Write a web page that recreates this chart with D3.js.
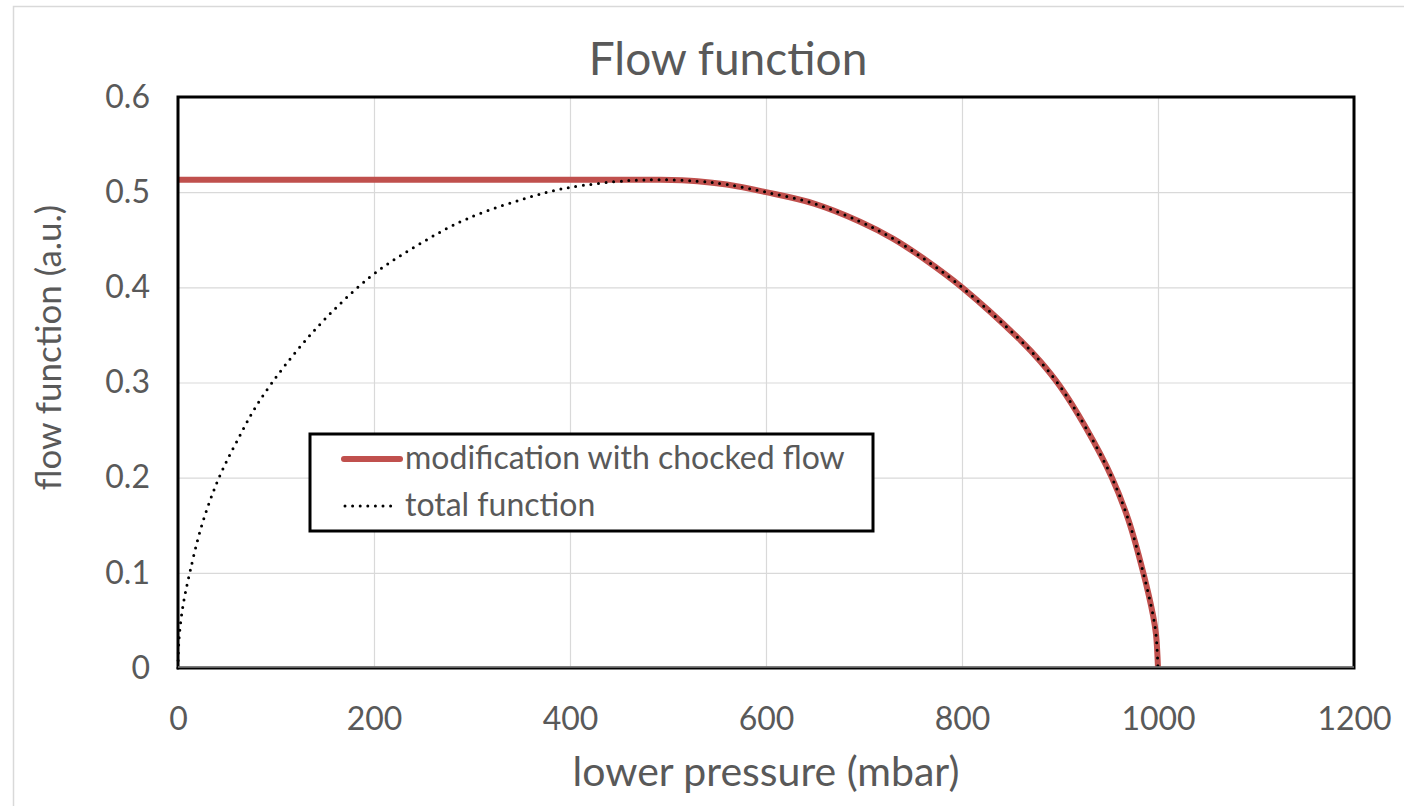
<!DOCTYPE html>
<html>
<head>
<meta charset="utf-8">
<script src="https://cdn.jsdelivr.net/npm/d3@7"></script>
<style>
  body { margin: 0; background: #fff; }
  text { font-family: Lato, "Open Sans", sans-serif; fill: #595959; }
</style>
</head>
<body>
<div id="chart"></div>
<script>
// values
var pressure      = [0, 1, 5, 12, 24, 41, 60, 84, 135, 195, 244, 295, 366, 400, 458, 492, 530, 560, 600, 649, 696, 730, 764, 800, 860, 880, 900, 925, 953, 970, 985, 995, 998, 1000];
var totalFunction = [0, 0.03, 0.065, 0.10, 0.149, 0.198, 0.238, 0.282, 0.350, 0.410, 0.444, 0.472, 0.497, 0.505, 0.512, 0.513, 0.5115, 0.508, 0.500, 0.488, 0.469, 0.451, 0.428, 0.400, 0.344, 0.322, 0.296, 0.255, 0.200, 0.155, 0.100, 0.055, 0.035, 0];

var chokedPressure = [0, 450, 492, 530, 560, 600, 649, 696, 730, 764, 800, 860, 880, 900, 925, 953, 970, 985, 995, 998, 1000];
var chokedFunction = [0.513, 0.513, 0.513, 0.5115, 0.508, 0.500, 0.488, 0.469, 0.451, 0.428, 0.400, 0.344, 0.322, 0.296, 0.255, 0.200, 0.155, 0.100, 0.055, 0.035, 0];

var xTicks = [0, 200, 400, 600, 800, 1000, 1200];
var yTicks = [0, 0.1, 0.2, 0.3, 0.4, 0.5, 0.6];

var seriesNames = ["modification with chocked flow", "total function"];

var W = 1404, H = 806;
var margin = {top: 97, right: 50, bottom: 138, left: 178};
var width = W - margin.left - margin.right;
var height = H - margin.top - margin.bottom;

var svg = d3.select("#chart").append("svg")
    .attr("width", W)
    .attr("height", H);

// outer chart frame
svg.append("rect")
    .attr("x", 13.5).attr("y", 6.5)
    .attr("width", W).attr("height", H)
    .attr("fill", "none")
    .attr("stroke", "#d9d9d9")
    .attr("stroke-width", 1.5);

svg.append("text")
    .attr("x", margin.left + width / 2 - 38)
    .attr("y", 75)
    .attr("text-anchor", "middle")
    .style("font-size", "46px")
    .text("Flow function");

var g = svg.append("g")
    .attr("transform", "translate(" + margin.left + "," + margin.top + ")");

var x = d3.scaleLinear().domain([0, 1200]).range([0, width]);
var y = d3.scaleLinear().domain([0, 0.6]).range([height, 0]);

// grid
g.append("g")
    .attr("class", "grid")
    .attr("transform", "translate(0," + height + ")")
    .call(d3.axisBottom(x).tickValues(xTicks).tickSize(-height).tickFormat(""))
    .call(function(s){ s.select(".domain").remove(); })
    .selectAll("line").attr("stroke", "#d9d9d9").attr("stroke-width", 1.2);

g.append("g")
    .attr("class", "grid")
    .call(d3.axisLeft(y).tickValues(yTicks).tickSize(-width).tickFormat(""))
    .call(function(s){ s.select(".domain").remove(); })
    .selectAll("line").attr("stroke", "#d9d9d9").attr("stroke-width", 1.2);

// axes labels
var xAxis = g.append("g")
    .attr("transform", "translate(0," + height + ")")
    .call(d3.axisBottom(x).tickValues(xTicks).tickSize(0).tickPadding(39).tickFormat(d3.format("d")));
xAxis.select(".domain").remove();
xAxis.selectAll("text")
    .style("font-size", "32px")
    .style("font-family", "Lato, 'Open Sans', sans-serif")
    .attr("fill", "#595959");

var yAxis = g.append("g")
    .call(d3.axisLeft(y).tickValues(yTicks).tickSize(0).tickPadding(28)
        .tickFormat(function(d){ return d === 0 ? "0" : d3.format(".1f")(d); }));
yAxis.select(".domain").remove();
yAxis.selectAll("text")
    .style("font-size", "32px")
    .style("font-family", "Lato, 'Open Sans', sans-serif")
    .attr("fill", "#595959");

// data lines
var chokedData = chokedPressure.map(function(p, i){ return [p, chokedFunction[i]]; });
var totalData = pressure.map(function(p, i){ return [p, totalFunction[i]]; });

var line = d3.line()
    .x(function(d){ return x(d[0]); })
    .y(function(d){ return y(d[1]); })
    .curve(d3.curveCatmullRom.alpha(0.5));

g.append("path")
    .attr("d", line(chokedData))
    .attr("fill", "none")
    .attr("stroke", "#c0504d")
    .attr("stroke-width", 6);

g.append("path")
    .attr("d", line(totalData))
    .attr("fill", "none")
    .attr("stroke", "#000")
    .attr("stroke-width", 3)
    .attr("stroke-linecap", "round")
    .attr("stroke-dasharray", "0 7.6");

// plot frame, with the grey x axis line on its bottom edge
g.append("rect")
    .attr("width", width).attr("height", height)
    .attr("fill", "none")
    .attr("stroke", "#000")
    .attr("stroke-width", 3);
g.append("line")
    .attr("x1", 0).attr("x2", width)
    .attr("y1", height - 1).attr("y2", height - 1)
    .attr("stroke", "#7f7f7f")
    .attr("stroke-width", 1.5);

// axis titles
svg.append("text")
    .attr("x", margin.left + width / 2)
    .attr("y", 786)
    .attr("text-anchor", "middle")
    .style("font-size", "41px")
    .text("lower pressure (mbar)");

svg.append("text")
    .attr("transform", "translate(61," + (margin.top + height / 2 - 35) + ") rotate(-90)")
    .attr("text-anchor", "middle")
    .style("font-size", "35px")
    .text("flow function (a.u.)");

// legend
var legend = svg.append("g").attr("transform", "translate(310,434)");
legend.append("rect")
    .attr("width", 563).attr("height", 97)
    .attr("fill", "#fff")
    .attr("stroke", "#000")
    .attr("stroke-width", 3);

legend.append("line")
    .attr("x1", 34).attr("x2", 90).attr("y1", 25).attr("y2", 25)
    .attr("stroke", "#c0504d").attr("stroke-width", 6).attr("stroke-linecap", "round");
legend.append("line")
    .attr("x1", 35).attr("x2", 88).attr("y1", 72).attr("y2", 72)
    .attr("stroke", "#000").attr("stroke-width", 3)
    .attr("stroke-linecap", "round").attr("stroke-dasharray", "0 7.6");

legend.selectAll("text.item")
    .data(seriesNames)
    .enter().append("text")
    .attr("class", "item")
    .attr("x", 95)
    .attr("y", function(d, i){ return 35 + i * 47; })
    .style("font-size", "32px")
    .text(function(d){ return d; });
</script>
</body>
</html>
